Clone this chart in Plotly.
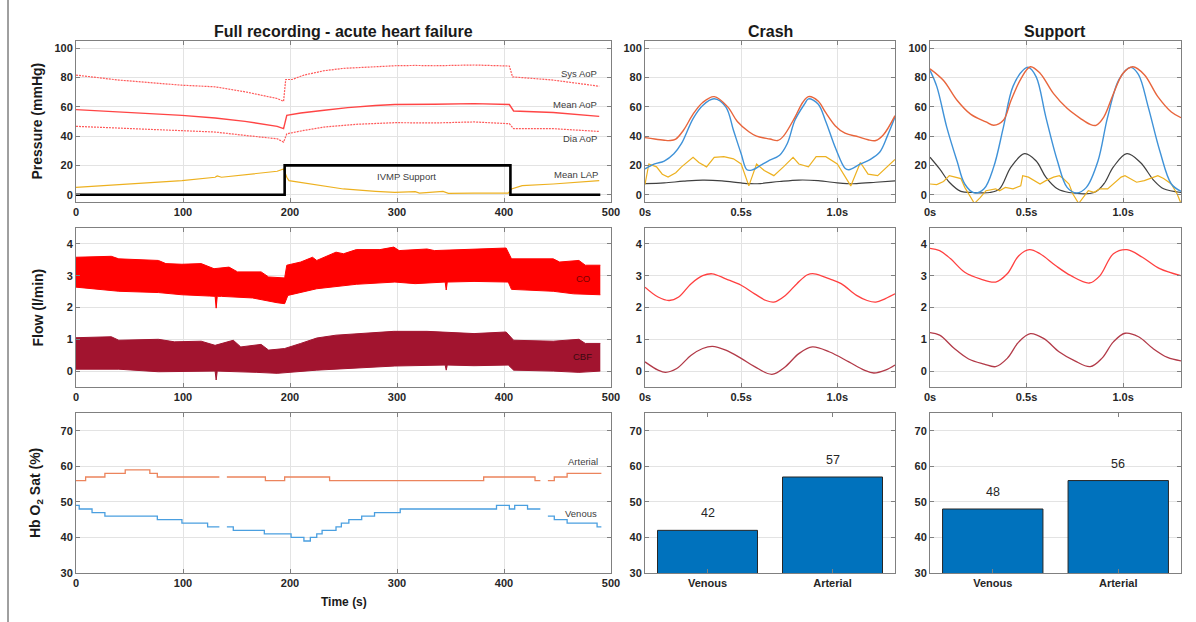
import plotly.graph_objects as go

# ---------------- data ----------------
# Full recording: pressures (mmHg) vs time (s)
sys_t = [0, 40, 99, 130, 158, 188, 194, 196, 202, 213, 232, 250, 280, 298, 317, 335, 372, 405, 408, 446, 489]
sys_v = [81.7, 78.3, 74.8, 73.7, 70.3, 65.7, 63.8, 78.7, 78.7, 81.7, 84.7, 86.3, 87.4, 88.1, 88.3, 88.1, 88.6, 87.9, 80.5, 78.3, 74.1]
mean_t = [0, 40, 99, 130, 158, 188, 194, 197, 210, 232, 254, 280, 298, 335, 372, 405, 409, 446, 489]
mean_v = [58.1, 56.5, 54.2, 52.4, 50.1, 46.7, 45.1, 54.2, 55.8, 57.7, 59.5, 60.9, 61.6, 61.8, 62.2, 61.6, 57.2, 56.1, 53.5]
dia_t = [0, 40, 99, 130, 158, 188, 194, 197, 213, 232, 262, 298, 335, 372, 405, 409, 446, 489]
dia_v = [46.7, 45.5, 43.9, 42.8, 40.5, 38.2, 35.9, 41.6, 43.9, 46.2, 48.1, 49.2, 49.0, 49.7, 48.5, 45.1, 45.1, 43.2]
lap_t = [0, 40, 99, 130, 132, 136, 158, 188, 194, 197, 199, 225, 250, 280, 298, 317, 321, 343, 348, 372, 404, 407, 417, 446, 489]
lap_v = [5, 6.9, 9.6, 11.9, 12.8, 11.9, 13.5, 16, 17.6, 11.9, 9.6, 6.6, 3.9, 2.3, 1.6, 2.1, 1.1, 2.3, 0.9, 1.1, 1.1, 3.9, 6.2, 7.3, 9.6]
ivmp_t = [0, 195, 406, 490]
ivmp_v = [0, 20, 0, 0]

# Full recording: flow envelopes (l/min)
co_up_t = [0, 33, 40, 77, 84, 99, 117, 129, 143, 151, 173, 180, 195, 197, 210, 221, 225, 243, 250, 262, 284, 297, 302, 328, 335, 372, 402, 407, 446, 452, 470, 476, 490]
co_up_v = [3.58, 3.61, 3.53, 3.48, 3.38, 3.36, 3.38, 3.22, 3.27, 3.12, 3.12, 2.96, 2.93, 3.33, 3.43, 3.58, 3.48, 3.74, 3.69, 3.82, 3.82, 3.9, 3.79, 3.84, 3.79, 3.84, 3.87, 3.53, 3.53, 3.43, 3.48, 3.33, 3.33]
co_lo_t = [0, 21, 40, 77, 99, 125, 130, 131, 132, 136, 165, 188, 195, 198, 225, 262, 298, 317, 345, 346, 347, 372, 404, 407, 446, 465, 490]
co_lo_v = [2.64, 2.57, 2.51, 2.47, 2.40, 2.36, 2.35, 1.98, 2.35, 2.35, 2.30, 2.15, 2.12, 2.38, 2.59, 2.73, 2.80, 2.75, 2.80, 2.55, 2.80, 2.82, 2.80, 2.57, 2.51, 2.43, 2.40]
cbf_up_t = [0, 33, 40, 77, 92, 117, 130, 147, 154, 173, 180, 195, 210, 225, 243, 262, 297, 328, 372, 402, 409, 446, 470, 476, 490]
cbf_up_v = [1.05, 1.08, 0.97, 1.0, 0.92, 0.94, 0.81, 0.97, 0.76, 0.84, 0.66, 0.71, 0.87, 1.04, 1.13, 1.18, 1.25, 1.25, 1.18, 1.23, 0.97, 0.94, 1.0, 0.87, 0.87]
cbf_lo_t = [0, 40, 77, 114, 130, 131, 132, 169, 188, 225, 262, 298, 345, 346, 347, 372, 404, 409, 446, 470, 490]
cbf_lo_v = [0.06, 0.06, -0.02, -0.02, 0.0, -0.28, 0.0, -0.04, -0.07, 0.03, 0.10, 0.16, 0.19, 0.03, 0.19, 0.17, 0.19, 0.03, 0.0, -0.04, 0.0]

# Full recording: Hb O2 saturation (%) steps
art_t = [0, 9, 27, 46, 69, 76, 134, 137, 141, 177, 195, 237, 381, 429, 434, 437, 441, 447, 459, 491]
art_v = [56, 57, 58, 59, 58, 57, 57, None, 57, 56, 57, 56, 57, 56, 56, None, 56, 57, 58, 58]
ven_t = [0, 3, 15, 27, 76, 99, 123, 134, 137, 141, 147, 176, 201, 213, 219, 225, 230, 243, 248, 255, 267, 279, 303, 393, 405, 410, 422, 434, 437, 441, 447, 459, 487, 491]
ven_v = [49, 48, 47, 46, 45, 44, 43, 43, None, 43, 42, 41, 40, 39, 40, 41, 42, 43, 44, 45, 46, 47, 48, 49, 48, 49, 48, 48, None, 46, 45, 44, 43, 43]

# Crash waveforms (time in s)
cr_aop_t = [0, 0.05, 0.1, 0.13, 0.16, 0.2, 0.25, 0.3, 0.36, 0.43, 0.48, 0.54, 0.58, 0.65, 0.69, 0.72, 0.78, 0.82, 0.85, 0.9, 0.94, 0.99, 1.04, 1.11, 1.16, 1.2, 1.24, 1.3]
cr_aop_v = [39, 38, 37.2, 37, 38, 44, 55, 63, 67, 60, 50, 43, 40, 38, 37, 40, 53, 63, 67, 64, 56, 47, 42, 39.5, 37.5, 37, 41, 54]
cr_lvp_t = [0, 0.05, 0.1, 0.15, 0.19, 0.25, 0.3, 0.36, 0.42, 0.46, 0.5, 0.53, 0.56, 0.6, 0.64, 0.7, 0.74, 0.78, 0.83, 0.85, 0.9, 0.94, 0.99, 1.04, 1.06, 1.12, 1.17, 1.22, 1.26, 1.3]
cr_lvp_v = [17.6, 21, 23, 28, 35, 52, 61, 65.5, 60, 44, 28, 17, 17, 20, 23, 27, 35, 51, 62, 65.5, 62, 50, 32, 18, 17, 21, 24, 29, 40, 53]
cr_lap_t = [0, 0.02, 0.06, 0.09, 0.12, 0.16, 0.19, 0.23, 0.25, 0.28, 0.32, 0.36, 0.41, 0.46, 0.5, 0.54, 0.58, 0.62, 0.67, 0.72, 0.77, 0.8, 0.85, 0.89, 0.94, 1.0, 1.07, 1.12, 1.16, 1.21, 1.27, 1.3]
cr_lap_v = [7, 21, 19, 14, 12, 15, 19, 23, 25.5, 22, 19, 25.5, 26, 24.5, 21, 6, 21, 16.5, 13, 19, 25.5, 21, 19, 26, 26, 21, 6, 22, 14, 13, 20, 24]
cr_pump_t = [0, 0.1, 0.2, 0.3, 0.4, 0.5, 0.55, 0.6, 0.7, 0.8, 0.9, 1.0, 1.05, 1.1, 1.2, 1.3]
cr_pump_v = [7.5, 8, 9.2, 10, 9.5, 8, 7.5, 7.6, 9, 10, 9.6, 8, 7.5, 7.6, 8.5, 9.5]

# Support waveforms
su_aop_t = [0, 0.07, 0.14, 0.21, 0.29, 0.33, 0.38, 0.42, 0.47, 0.52, 0.57, 0.64, 0.71, 0.78, 0.83, 0.86, 0.9, 0.95, 1.0, 1.05, 1.11, 1.18, 1.25, 1.3]
su_aop_v = [86, 78, 64.5, 55, 49.7, 47.4, 50.8, 64.5, 79, 87.4, 83, 69, 59, 52, 48, 47.4, 53, 69, 83, 87.4, 82, 67, 56.5, 52.6]
su_lvp_t = [0, 0.035, 0.087, 0.14, 0.18, 0.23, 0.28, 0.33, 0.38, 0.43, 0.49, 0.51, 0.55, 0.6, 0.66, 0.71, 0.76, 0.81, 0.87, 0.92, 0.98, 1.04, 1.08, 1.13, 1.19, 1.25, 1.3]
su_lvp_v = [85, 74, 46, 23, 7.3, 1.2, 4, 19, 46, 74, 86, 87, 80.5, 53, 23, 5, 1.2, 5, 23, 53, 79, 87, 82, 60, 30, 7.3, 2.3]
su_lap_t = [0, 0.035, 0.07, 0.1, 0.13, 0.16, 0.18, 0.21, 0.23, 0.26, 0.29, 0.34, 0.36, 0.39, 0.43, 0.47, 0.48, 0.51, 0.54, 0.57, 0.6, 0.64, 0.67, 0.69, 0.72, 0.74, 0.77, 0.8, 0.82, 0.85, 0.88, 0.92, 0.95, 0.99, 1.01, 1.04, 1.07, 1.11, 1.14, 1.18, 1.21, 1.25, 1.28, 1.3]
su_lap_v = [7.3, 6.9, 9, 13, 12, 11, 5, -2, -6, -2, 2.7, 4, 2.7, 5, 4, 6, 13, 12, 9.6, 7.3, 9.6, 12, 13, 11, 7.3, 0.5, -6, -0.7, 2.7, 1.6, 4, 4, 7.3, 12, 13, 11, 8.5, 9.6, 11, 13, 11, 7.3, 0.5, -6]
su_pump_t = [0, 0.05, 0.1, 0.16, 0.22, 0.31, 0.36, 0.42, 0.49, 0.55, 0.6, 0.66, 0.72, 0.85, 0.9, 0.95, 1.02, 1.09, 1.16, 1.21, 1.3]
su_pump_v = [25.6, 17.6, 8.5, 2.3, 1.5, 1.5, 4, 19, 28, 23, 12, 4, 1.5, 1.5, 7.3, 19, 28, 22, 9.6, 4, 1.5]

# Flow waveforms
cr_co_t = [0, 0.068, 0.126, 0.175, 0.24, 0.3, 0.35, 0.42, 0.5, 0.57, 0.63, 0.67, 0.73, 0.79, 0.845, 0.88, 0.96, 1.02, 1.1, 1.155, 1.2, 1.25, 1.3]
cr_co_v = [2.64, 2.33, 2.22, 2.33, 2.75, 3.0, 3.06, 2.9, 2.7, 2.43, 2.22, 2.17, 2.38, 2.75, 3.03, 3.06, 2.9, 2.75, 2.38, 2.22, 2.17, 2.28, 2.43]
cr_cbf_t = [0, 0.068, 0.107, 0.165, 0.24, 0.3, 0.35, 0.42, 0.5, 0.57, 0.66, 0.73, 0.8, 0.87, 0.96, 1.06, 1.14, 1.19, 1.25, 1.3]
cr_cbf_v = [0.29, 0.03, -0.04, 0.08, 0.5, 0.71, 0.78, 0.66, 0.4, 0.14, -0.1, 0.14, 0.55, 0.76, 0.6, 0.29, 0.03, -0.06, 0.03, 0.19]
su_co_t = [0, 0.05, 0.107, 0.18, 0.26, 0.34, 0.4, 0.46, 0.515, 0.57, 0.65, 0.73, 0.825, 0.88, 0.95, 1.02, 1.1, 1.19, 1.3]
su_co_v = [3.86, 3.79, 3.53, 3.11, 2.9, 2.8, 3.06, 3.63, 3.82, 3.69, 3.32, 3.0, 2.77, 3.0, 3.69, 3.82, 3.58, 3.22, 3.0]
su_cbf_t = [0, 0.05, 0.126, 0.2, 0.28, 0.34, 0.4, 0.46, 0.52, 0.59, 0.67, 0.75, 0.83, 0.89, 0.95, 1.01, 1.08, 1.155, 1.23, 1.3]
su_cbf_v = [1.21, 1.13, 0.71, 0.38, 0.22, 0.14, 0.4, 0.92, 1.18, 1.02, 0.6, 0.32, 0.14, 0.4, 0.92, 1.19, 1.08, 0.71, 0.43, 0.32]

# Bars
bar_cats = ["Venous", "Arterial"]
crash_sat = [42, 57]
support_sat = [48, 56]

# Tick labels
full_ticks = [0, 100, 200, 300, 400, 500]
wave_tickvals = [0, 0.5, 1.0]
wave_ticktext = ["0s", "0.5s", "1.0s"]

# ---------------- styling ----------------
W, H = 1196, 622
FONT = "Liberation Sans, Arial, sans-serif"
TXT = "#262626"
C_RED = "#ff4545"
C_LAP = "#edb120"
C_ORANGE = "#e8653c"
C_BLUE = "#3f92d8"
C_PUMP = "#404040"
C_CO = "#ff0000"
C_CBF = "#a2142f"

cols = {"L": (76, 611), "C": (645, 895), "S": (930, 1181)}
rows = {1: (41, 202), 2: (228, 387), 3: (413, 573)}
panels = {1: ("L", 1), 2: ("C", 1), 3: ("S", 1),
          4: ("L", 2), 5: ("C", 2), 6: ("S", 2),
          7: ("L", 3), 8: ("C", 3), 9: ("S", 3)}

fig = go.Figure()

def ax(n):
    s = "" if n == 1 else str(n)
    return "x" + s, "y" + s

def line(n, x, y, color, width=1.2, dash="solid", shape="linear"):
    xa, ya = ax(n)
    fig.add_trace(go.Scatter(x=x, y=y, mode="lines", xaxis=xa, yaxis=ya,
                             line=dict(color=color, width=width, dash=dash, shape=shape),
                             connectgaps=False, showlegend=False, hoverinfo="skip"))

# Row 1 left
line(1, sys_t, sys_v, "#ff5a5a", 1.2, "2px,1px")
line(1, mean_t, mean_v, C_RED, 1.4)
line(1, dia_t, dia_v, "#ff5a5a", 1.2, "2px,1px")
line(1, lap_t, lap_v, C_LAP, 1.2)
line(1, ivmp_t, ivmp_v, "#000000", 2.6, shape="hv")

# Row 1 crash / support
for n, (at, av, lt, lv, yt, yv, pt, pv) in {
        2: (cr_aop_t, cr_aop_v, cr_lvp_t, cr_lvp_v, cr_lap_t, cr_lap_v, cr_pump_t, cr_pump_v),
        3: (su_aop_t, su_aop_v, su_lvp_t, su_lvp_v, su_lap_t, su_lap_v, su_pump_t, su_pump_v)}.items():
    line(n, pt, pv, C_PUMP, 1.2, shape="spline")
    line(n, yt, yv, C_LAP, 1.2)
    line(n, lt, lv, C_BLUE, 1.4, shape="spline")
    line(n, at, av, C_ORANGE, 1.4, shape="spline")

# Row 2 left: filled envelopes
xa, ya = ax(4)
for (lt_, lv_, ut_, uv_, c) in [(co_lo_t, co_lo_v, co_up_t, co_up_v, C_CO),
                                 (cbf_lo_t, cbf_lo_v, cbf_up_t, cbf_up_v, C_CBF)]:
    fig.add_trace(go.Scatter(x=lt_, y=lv_, mode="lines", xaxis=xa, yaxis=ya,
                             line=dict(color=c, width=1), showlegend=False, hoverinfo="skip"))
    fig.add_trace(go.Scatter(x=ut_, y=uv_, mode="lines", xaxis=xa, yaxis=ya, fill="tonexty",
                             fillcolor=c, line=dict(color=c, width=1),
                             showlegend=False, hoverinfo="skip"))

# Row 2 crash / support
line(5, cr_co_t, cr_co_v, "#ff4040", 1.3, shape="spline")
line(5, cr_cbf_t, cr_cbf_v, "#b23a48", 1.3, shape="spline")
line(6, su_co_t, su_co_v, "#ff4040", 1.3, shape="spline")
line(6, su_cbf_t, su_cbf_v, "#b23a48", 1.3, shape="spline")

# Row 3 left
line(7, art_t, art_v, "#ec845c", 1.3, shape="hv")
line(7, ven_t, ven_v, "#4a9fe0", 1.3, shape="hv")

# Bars
for n, vals in [(8, crash_sat), (9, support_sat)]:
    xa, ya = ax(n)
    fig.add_trace(go.Bar(x=bar_cats, y=vals, xaxis=xa, yaxis=ya, width=0.8,
                         marker=dict(color="#0072bd", line=dict(color="#262626", width=1)),
                         showlegend=False, hoverinfo="skip"))

# ---------------- axes ----------------
tickfont = dict(family=FONT, size=11, color=TXT, weight="bold")
layout_axes = {}
for n, (c, r) in panels.items():
    x0, x1 = cols[c]
    y0, y1 = rows[r]
    xk = "xaxis" if n == 1 else "xaxis%d" % n
    yk = "yaxis" if n == 1 else "yaxis%d" % n
    xa, ya = ax(n)
    common = dict(showline=True, linecolor="#808080", linewidth=1, mirror="ticks",
                  ticks="inside", ticklen=4, tickcolor="#808080", tickwidth=1,
                  showgrid=True, gridcolor="#e3e3e3", gridwidth=1, zeroline=False,
                  tickfont=tickfont, fixedrange=True, automargin=False)
    xd = dict(common, domain=[x0 / W, x1 / W], anchor=ya)
    yd = dict(common, domain=[1 - y1 / H, 1 - y0 / H], anchor=xa)
    if c == "L":
        xd.update(range=[0, 500], tickvals=full_ticks)
    elif r < 3:
        xd.update(range=[0, 1.3], tickvals=wave_tickvals, ticktext=wave_ticktext)
    else:
        xd.update(range=[-0.5, 1.5], showgrid=False, type="category")
    if r == 1:
        yd.update(range=[-5, 105], tickvals=[0, 20, 40, 60, 80, 100])
    elif r == 2:
        yd.update(range=[-0.5, 4.5], tickvals=[0, 1, 2, 3, 4])
    else:
        yd.update(range=[30, 75], tickvals=[30, 40, 50, 60, 70])
    layout_axes[xk] = xd
    layout_axes[yk] = yd

# ---------------- annotations ----------------
ann = []
def label(n, x, y, text, color="#404040", size=9.5, xanchor="right"):
    xa, ya = ax(n)
    ann.append(dict(x=x, y=y, xref=xa, yref=ya, text=text, showarrow=False,
                    xanchor=xanchor, yanchor="middle",
                    font=dict(family=FONT, size=size, color=color)))

label(1, 489, 82.9, "Sys AoP")
label(1, 489, 61.6, "Mean AoP")
label(1, 489, 38.1, "Dia AoP")
label(1, 490, 13.7, "Mean LAP")
label(1, 309, 12.5, "IVMP Support", xanchor="center")
label(4, 482, 2.9, "CO", color="#7a0000")
label(4, 484, 0.47, "CBF", color="#3a0a10")
label(7, 490, 61.5, "Arterial")
label(7, 489, 46.6, "Venous")

for n, vals in [(8, crash_sat), (9, support_sat)]:
    xa, ya = ax(n)
    for cat, v in zip(bar_cats, vals):
        ann.append(dict(x=cat, y=v, xref=xa, yref=ya, text=str(v), showarrow=False,
                        yshift=17, yanchor="middle",
                        font=dict(family=FONT, size=12.5, color=TXT)))

def paper_text(xp, yp, text, size, angle=0, bold=True):
    ann.append(dict(x=xp / W, y=1 - yp / H, xref="paper", yref="paper", text=text,
                    showarrow=False, xanchor="center", yanchor="middle", textangle=angle,
                    font=dict(family=FONT, size=size, color="#1a1a1a",
                              weight="bold" if bold else "normal")))

paper_text(344, 31, "Full recording - acute heart failure", 16)
paper_text(770, 31, "Crash", 16)
paper_text(1055, 31, "Support", 16)
paper_text(36, 121.5, "Pressure (mmHg)", 14, -90)
paper_text(37, 307.5, "Flow (l/min)", 14, -90)
paper_text(36, 493, "Hb O<sub>2</sub> Sat (%)", 14, -90)
paper_text(344, 602, "Time (s)", 12)

fig.update_layout(
    width=W, height=H, margin=dict(l=0, r=0, t=0, b=0, autoexpand=False),
    autosize=False,
    paper_bgcolor="white", plot_bgcolor="white",
    font=dict(family=FONT, color=TXT),
    annotations=ann, bargap=0.2, showlegend=False,
    shapes=[dict(type="line", xref="paper", yref="paper", x0=8 / W, x1=8 / W, y0=0, y1=1,
                 line=dict(color="#404040", width=1))],
    **layout_axes,
)

fig.write_html(
    "out.html",
    config={"responsive": False, "displayModeBar": False},
    post_script="document.body.style.margin='0';document.body.style.padding='0';"
                "document.body.style.overflow='hidden';"
                "document.documentElement.style.overflow='hidden';",
)
